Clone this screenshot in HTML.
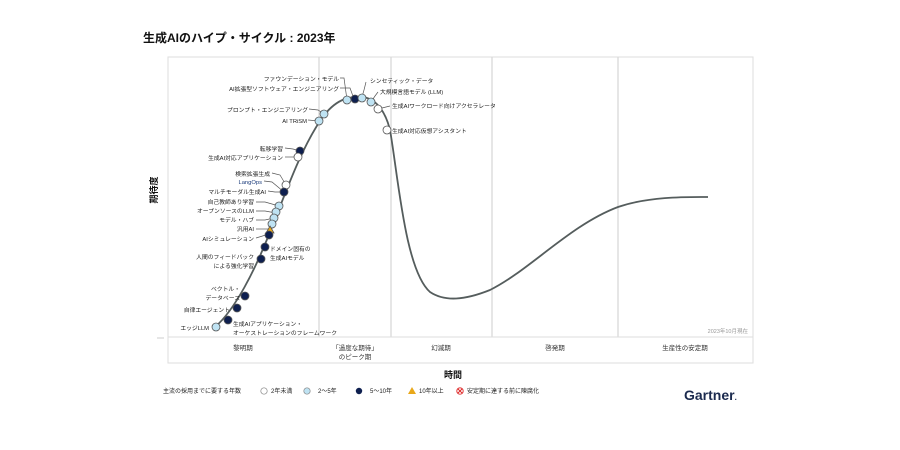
<!DOCTYPE html>
<html><head><meta charset="utf-8"><style>
html,body{margin:0;padding:0;background:#fff;}
svg{display:block;font-family:"Liberation Sans","Noto Sans CJK JP",sans-serif;}
</style></head><body>
<svg width="900" height="450" viewBox="0 0 900 450" xmlns="http://www.w3.org/2000/svg">
<text x="143" y="42" font-size="12" font-weight="bold" fill="#111">生成AIのハイプ・サイクル : 2023年</text>
<rect x="168" y="57" width="585" height="280" fill="#fff" stroke="#ddd" stroke-width="1"/>
<g stroke="#d6d6d6" stroke-width="1.2">
<line x1="319" y1="57" x2="319" y2="337"/><line x1="391" y1="57" x2="391" y2="337"/>
<line x1="492" y1="57" x2="492" y2="337"/><line x1="618" y1="57" x2="618" y2="337"/>
</g>
<line x1="157" y1="338" x2="164" y2="338" stroke="#ccc"/>
<rect x="168" y="337" width="585" height="26" fill="#fff" stroke="#ddd"/>
<g font-size="6.5" fill="#333" text-anchor="middle">
<text x="243" y="350">黎明期</text>
<text x="355" y="350">「過度な期待」</text><text x="355" y="359">のピーク期</text>
<text x="441" y="350">幻滅期</text>
<text x="555" y="350">啓発期</text>
<text x="685" y="350">生産性の安定期</text>
</g>
<text x="748" y="333" font-size="5.5" fill="#999" text-anchor="end">2023年10月現在</text>
<text x="157" y="190" font-size="9" font-weight="bold" fill="#111" transform="rotate(-90 157 190)" text-anchor="middle">期待度</text>
<text x="453" y="378" font-size="9" font-weight="bold" fill="#111" text-anchor="middle">時間</text>
<path d="M215,327 C235,310 255,270 270,232 C285,195 300,150 322,118 C335,100 348,96 362,97 C375,98 385,110 390,130 C398,175 405,270 430,292 C445,302 465,300 490,290 C530,270 570,225 618,207 C650,196 690,197 708,197" fill="none" stroke="#555d5d" stroke-width="1.8"/>
<g stroke="#555" stroke-width="0.7" fill="none">
<path d="M340,78 L344,78 L347,100"/><path d="M340,88 L350,88 L354,99"/>
<path d="M309,109 L318,110 L324,114"/><path d="M308,120 L319,121"/>
<path d="M285,148 L293,149 L300,151"/><path d="M285,157 L298,157"/>
<path d="M272,173 L280,175 L286,185"/><path d="M264,181 L272,182 L284,192"/>
<path d="M268,191 L275,192 L284,192"/>
<path d="M256,202 L265,202 L279,206"/><path d="M256,211 L265,211 L276,213"/>
<path d="M256,220 L265,220 L274,218"/><path d="M256,229 L268,229"/>
<path d="M256,238 L269,234"/>
<path d="M366,82 L364,90 L362,97"/><path d="M378,92 L375,96 L371,102"/>
<path d="M390,106 L382,108"/><path d="M390,131 L387,130"/>
</g>
<g stroke="#555" stroke-width="0.8">
<circle cx="347" cy="100" r="4" fill="#bfe3f3"/>
<circle cx="355" cy="99" r="4" fill="#0e1f4f"/>
<circle cx="362" cy="98" r="4" fill="#bfe3f3"/>
<circle cx="371" cy="102" r="4" fill="#bfe3f3"/>
<circle cx="378" cy="109" r="4" fill="#fff"/>
<circle cx="387" cy="130" r="4" fill="#fff"/>
<circle cx="324" cy="114" r="4" fill="#bfe3f3"/>
<circle cx="319" cy="121" r="4" fill="#bfe3f3"/>
<circle cx="300" cy="151" r="4" fill="#0e1f4f"/>
<circle cx="298" cy="157" r="4" fill="#fff"/>
<circle cx="286" cy="185" r="4" fill="#fff"/>
<circle cx="284" cy="192" r="4" fill="#0e1f4f"/>
<circle cx="279" cy="206" r="4" fill="#bfe3f3"/>
<circle cx="276" cy="212" r="4" fill="#bfe3f3"/>
<circle cx="274" cy="218" r="4" fill="#bfe3f3"/>
<circle cx="272" cy="224" r="4" fill="#bfe3f3"/>
<path d="M270,226 L274,233 L266,233 Z" fill="#e9a81a"/>
<circle cx="269" cy="235" r="4" fill="#0e1f4f"/>
<circle cx="265" cy="247" r="4" fill="#0e1f4f"/>
<circle cx="261" cy="259" r="4" fill="#0e1f4f"/>
<circle cx="245" cy="296" r="4" fill="#0e1f4f"/>
<circle cx="237" cy="308" r="4" fill="#0e1f4f"/>
<circle cx="228" cy="320" r="4" fill="#0e1f4f"/>
<circle cx="216" cy="327" r="4" fill="#bfe3f3"/>
</g>
<g font-size="5.8" fill="#222" text-anchor="end">
<text x="339" y="81">ファウンデーション・モデル</text>
<text x="339" y="91">AI拡張型ソフトウェア・エンジニアリング</text>
<text x="308" y="112">プロンプト・エンジニアリング</text>
<text x="307" y="123">AI TRiSM</text>
<text x="283" y="151">転移学習</text>
<text x="283" y="160">生成AI対応アプリケーション</text>
<text x="270" y="176">検索拡張生成</text>
<text x="262" y="184" fill="#1a3a7a">LangOps</text>
<text x="266" y="194">マルチモーダル生成AI</text>
<text x="254" y="204">自己教師あり学習</text>
<text x="254" y="213">オープンソースのLLM</text>
<text x="254" y="222">モデル・ハブ</text>
<text x="254" y="231">汎用AI</text>
<text x="254" y="241">AIシミュレーション</text>
<text x="254" y="259">人間のフィードバック</text>
<text x="254" y="268">による強化学習</text>
<text x="240" y="291">ベクトル・</text>
<text x="240" y="300">データベース</text>
<text x="230" y="312">自律エージェント</text>
<text x="209" y="330">エッジLLM</text>
</g>
<g font-size="5.8" fill="#222">
<text x="270" y="251">ドメイン固有の</text>
<text x="270" y="260">生成AIモデル</text>
<text x="233" y="326">生成AIアプリケーション・</text>
<text x="233" y="335">オーケストレーションのフレームワーク</text>
<text x="370" y="83">シンセティック・データ</text>
<text x="380" y="94">大規模言語モデル (LLM)</text>
<text x="392" y="108">生成AIワークロード向けアクセラレータ</text>
<text x="392" y="133">生成AI対応仮想アシスタント</text>
</g>
<g font-size="6" fill="#222">
<text x="163" y="393">主流の採用までに要する年数</text>
<circle cx="264" cy="391" r="3.2" fill="#fff" stroke="#888" stroke-width="0.7"/>
<text x="271" y="393">2年未満</text>
<circle cx="307" cy="391" r="3.2" fill="#bfe3f3" stroke="#888" stroke-width="0.7"/>
<text x="318" y="393">2～5年</text>
<circle cx="359" cy="391" r="3.2" fill="#0e1f4f"/>
<text x="370" y="393">5～10年</text>
<path d="M412,387 L416,394 L408,394 Z" fill="#e9a81a"/>
<text x="419" y="393">10年以上</text>
<circle cx="460" cy="391" r="3.2" fill="#fff" stroke="#d22" stroke-width="0.9"/>
<path d="M458,389 L462,393 M462,389 L458,393" stroke="#d22" stroke-width="0.9"/>
<text x="467" y="393">安定期に達する前に陳腐化</text>
</g>
<text x="684" y="400" font-size="14" font-weight="bold" fill="#1b2a4e">Gartner<tspan font-size="8">.</tspan></text>
</svg>
</body></html>
